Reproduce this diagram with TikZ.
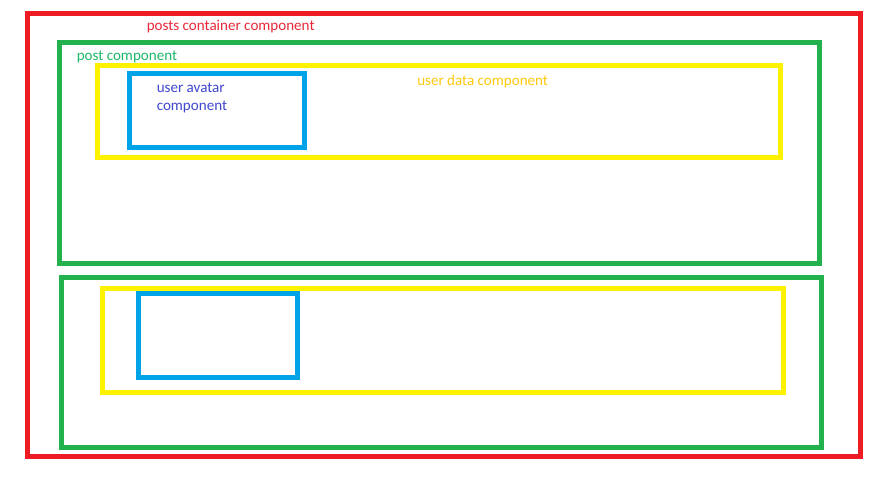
\documentclass[tikz,border=0pt]{standalone}
\usepackage{fontspec}
\setmainfont{Carlito}
\definecolor{paintred}{HTML}{ED1C24}
\definecolor{paintgreen}{HTML}{22B14C}
\definecolor{paintyellow}{HTML}{FFF200}
\definecolor{paintblue}{HTML}{00A2E8}
\definecolor{labelred}{HTML}{E8283A}
\definecolor{labelgreen}{HTML}{1DB86A}
\definecolor{labelgold}{HTML}{FFC90E}
\definecolor{labelblue}{HTML}{3F48CC}

\begin{document}
\begin{tikzpicture}[
  x=0.75pt,
  y=-0.75pt,
  frame/.style={line width=3.75pt, line join=miter},
  containerbox/.style={frame, draw=paintred},
  postbox/.style={frame, draw=paintgreen},
  databox/.style={frame, draw=paintyellow},
  avatarbox/.style={frame, draw=paintblue},
  caption/.style={font=\fontsize{11.3}{13.2}\selectfont, inner sep=0pt, anchor=base west, align=left}
]
  \useasboundingbox[fill=white] (0,0) rectangle (894,492);

  % Outer container.
  \draw[containerbox] (27.5,13.5) rectangle (860,456.5);

  % First post.
  \draw[postbox] (59,43) rectangle (819.5,263.5);
  \draw[databox] (97.5,65.5) rectangle (780,158);
  \draw[avatarbox] (129,73.5) rectangle (304,147.5);

  % Second post.
  \draw[postbox] (61,277.5) rectangle (821.5,447.5);
  \draw[databox] (102.5,288.5) rectangle (783.5,392.5);
  \draw[avatarbox] (138.5,293.5) rectangle (297.5,377.5);

  % Labels.
  \node[caption, text=labelred] (containerlabel) at (146.5,31)
    {posts container component};
  \node[caption, text=labelgreen] (postlabel) at (76.5,61)
    {post component};
  \node[caption, text=labelgold] (datalabel) at (417,86)
    {user data component};
  \node[caption, text=labelblue] (avatarlabel) at (156.5,110.5)
    {user avatar\\component};

\end{tikzpicture}
\end{document}
